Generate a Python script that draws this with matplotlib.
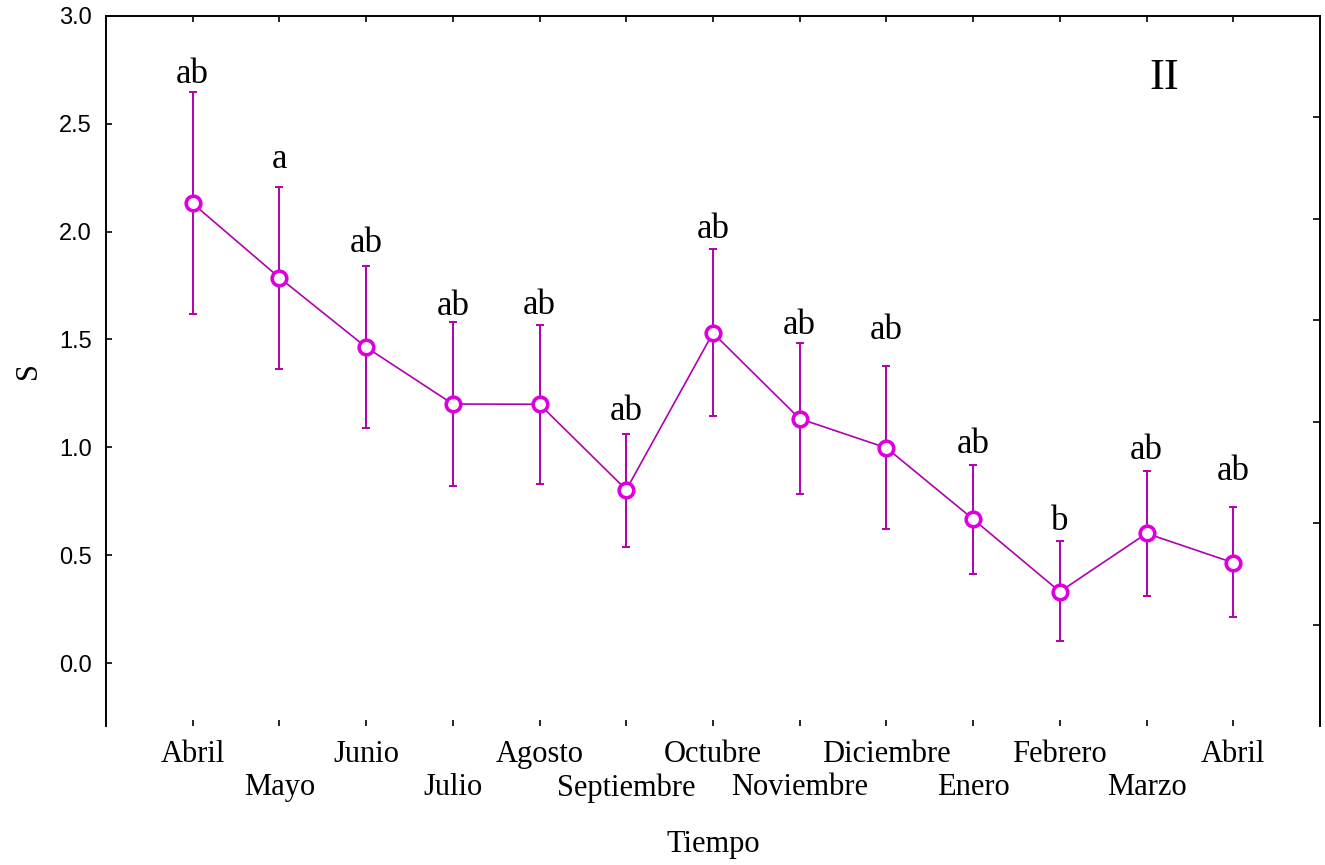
import matplotlib.pyplot as plt
import numpy as np

meses = ["Abril", "Mayo", "Junio", "Julio", "Agosto", "Septiembre", "Octubre",
         "Noviembre", "Diciembre", "Enero", "Febrero", "Marzo", "Abril"]
media = [2.13, 1.786, 1.464, 1.201, 1.200, 0.804, 1.530, 1.133, 0.998, 0.668, 0.332, 0.602, 0.466]
sup = [2.646, 2.206, 1.842, 1.579, 1.567, 1.061, 1.920, 1.482, 1.377, 0.918, 0.568, 0.889, 0.723]
inf = [1.619, 1.365, 1.091, 0.821, 0.832, 0.539, 1.145, 0.784, 0.622, 0.415, 0.103, 0.312, 0.213]
letras = ["ab", "a", "ab", "ab", "ab", "ab", "ab", "ab", "ab", "ab", "b", "ab", "ab"]
letras_y = [2.686, 2.293, 1.906, 1.613, 1.616, 1.127, 1.968, 1.524, 1.501, 0.973, 0.617, 0.945, 0.849]

x = np.arange(len(meses))
media = np.array(media)
err = [media - np.array(inf), np.array(sup) - media]

serif = "Liberation Serif"
sans = "Liberation Sans"

fig = plt.figure(figsize=(13.25, 8.65), dpi=100)
ax = fig.add_axes([0.08, 0.1607, 0.9162, 0.8213])

linea = "#B000B0"
ax.errorbar(x, media, yerr=err, fmt="none", ecolor=linea, elinewidth=1.4,
            capsize=3, capthick=1.4, zorder=2)
ax.plot(x, media, "-", color=linea, lw=1.2, zorder=3)
ax.plot(x, media, "o", ms=10.5, mfc="white", mec="#DD00DD", mew=2.6, zorder=4)

for xi, t, yl in zip(x, letras, letras_y):
    ax.text(xi, yl, t, ha="center", va="baseline", family=serif, fontsize=25)

ax.text(11.2, 2.66, "II", ha="center", va="baseline", family=serif, fontsize=32)

ax.set_xlim(-1, 13)
ax.set_ylim(-0.29, 3.0)
ax.set_yticks(np.arange(0, 3.01, 0.5))
ax.set_yticklabels([f"{v:.1f}" for v in np.arange(0, 3.01, 0.5)], family=sans, fontsize=17)

# meses alternados en dos filas
ax.set_xticks(x[::2])
ax.set_xticklabels(meses[::2], family=serif, fontsize=22)
ax.set_xticks(x[1::2], minor=True)
ax.set_xticklabels(meses[1::2], minor=True, family=serif, fontsize=22)

ax.spines["bottom"].set_visible(False)
ax.spines["right"].set_visible(False)
for s in ["left", "top"]:
    ax.spines[s].set_linewidth(1.4)
ax.tick_params(axis="y", direction="in", length=4, width=1.2, pad=10)
ax.tick_params(axis="x", which="major", direction="in", length=4, width=1.2, pad=10, top=True)
ax.tick_params(axis="x", which="minor", direction="in", length=4, width=1.2, pad=34, top=True)

ax2 = ax.twinx()
ax2.set_ylim(0, 7)
ax2.set_yticks(range(1, 7))
ax2.set_yticklabels([])
ax2.tick_params(axis="y", direction="in", length=5, width=1.2)
ax2.spines["right"].set_linewidth(1.4)
ax2.spines["bottom"].set_visible(False)
ax2.spines["top"].set_visible(False)
ax2.spines["left"].set_visible(False)

ax.set_xlabel("Tiempo", family=serif, fontsize=22, labelpad=20)
ax.set_ylabel("S", family=serif, fontsize=22, labelpad=12)

fig.savefig("out.png", dpi=100)
